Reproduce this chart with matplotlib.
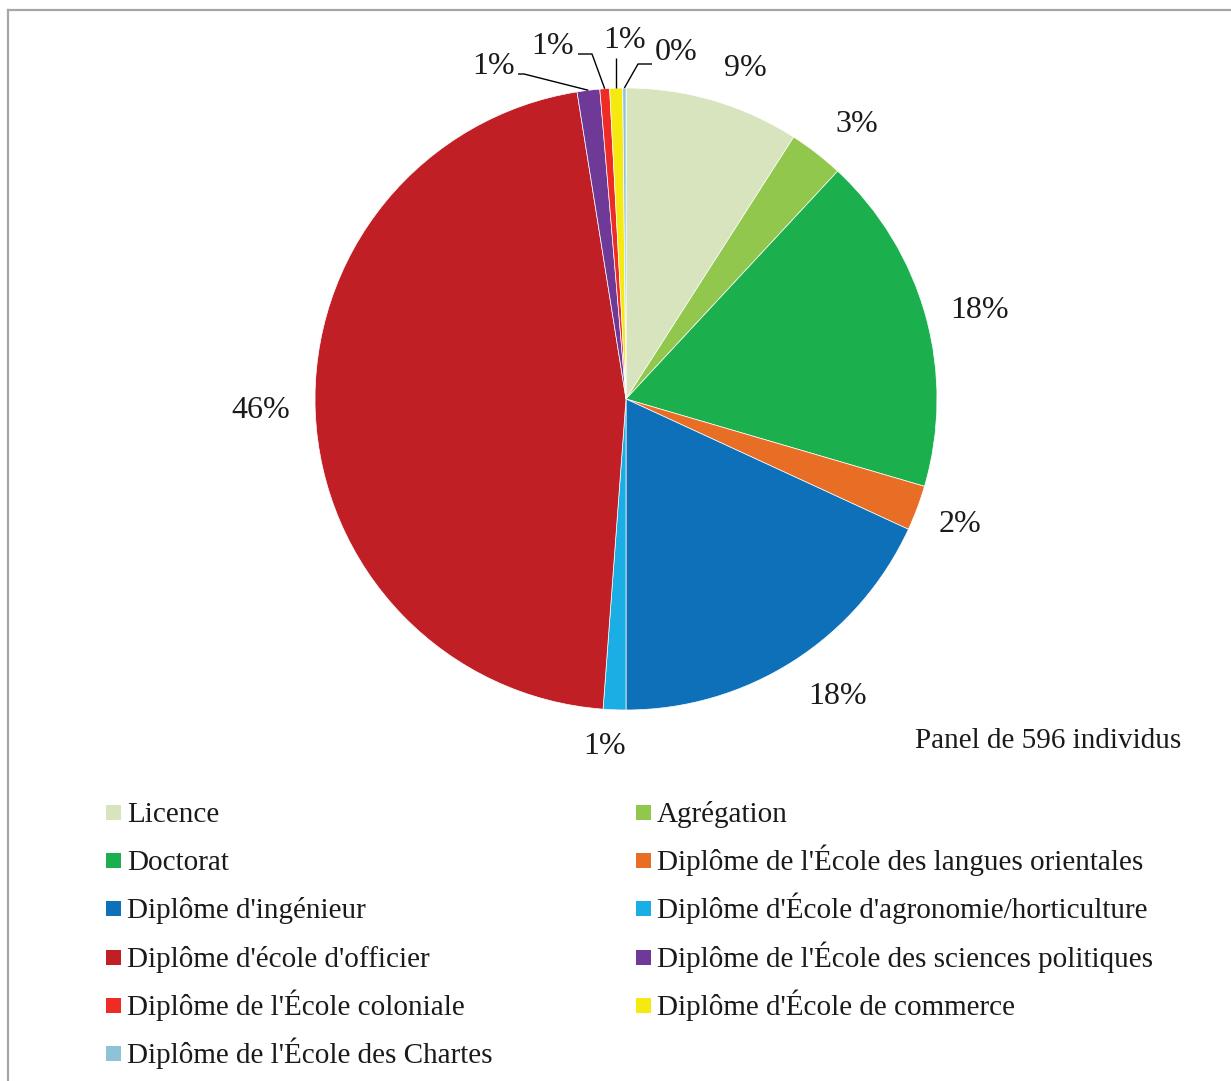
import matplotlib
matplotlib.use("Agg")
import matplotlib.pyplot as plt
from matplotlib.patches import Rectangle
from matplotlib.lines import Line2D
import numpy as np

plt.rcParams['font.family'] = ['Liberation Serif', 'DejaVu Serif']

categories = [
    "Licence", "Agrégation", "Doctorat",
    "Diplôme de l'École des langues orientales",
    "Diplôme d'ingénieur",
    "Diplôme d'École d'agronomie/horticulture",
    "Diplôme d'école d'officier",
    "Diplôme de l'École des sciences politiques",
    "Diplôme de l'École coloniale",
    "Diplôme d'École de commerce",
    "Diplôme de l'École des Chartes",
]
counts = [54, 17, 105, 14, 108, 7, 276, 7, 3, 4, 1]
pct_labels = ["9%", "3%", "18%", "2%", "18%", "1%", "46%", "1%", "1%", "1%", "0%"]
colors = ["#D7E4BD", "#92C74E", "#1BB04D", "#E76E24", "#0E70B9", "#1AAEE4",
          "#C01F26", "#6F3A97", "#EE2B24", "#F5E90F", "#8EC3D7"]
panel_text = "Panel de 596 individus"

W, H = 1231, 1081
fig = plt.figure(figsize=(W / 100, H / 100), dpi=100)

# pie axes: center (626,399) px, radius 311 px
cx, cy, r = 626, 399, 311
span = 1.35
ax = fig.add_axes([(cx - r * span) / W, 1 - (cy + r * span) / H,
                   2 * r * span / W, 2 * r * span / H])

wedges, _ = ax.pie(counts, colors=colors, startangle=90, counterclock=False,
                   radius=1.0, wedgeprops=dict(edgecolor='white', linewidth=0.5))
ax.set_xlim(-span, span)
ax.set_ylim(-span, span)
ax.set_aspect('equal')
ax.axis('off')


def px2d(px, py):
    return (px - cx) / r, (cy - py) / r


fs_lab = 23
txt_col = '#1a1a1a'
# label centres (pixel layout)
label_px = [(745, 68), (857, 124), (980, 310), (960, 524), (838, 697), (605, 747),
            (261, 411), (494, 66), (553, 46), (625, 40), (676, 53)]
for i, (lx, ly) in enumerate(label_px):
    x, y = px2d(lx, ly)
    ax.text(x, y, pct_labels[i], ha='center', va='center', fontsize=fs_lab, color=txt_col)

# leader lines for the small slices: start & elbow (pixel layout), end on the slice edge
leaders = {7: [(518, 74), (524, 74)],
           8: [(578, 54), (592, 54)],
           9: [(617, 58), None],
           10: [(652, 64), (638, 64)]}
for i, pts in leaders.items():
    w = wedges[i]
    mid = np.deg2rad((w.theta1 + w.theta2) / 2)
    ex, ey = np.cos(mid), np.sin(mid)
    sx, sy = px2d(*pts[0])
    if pts[1] is None:
        xs, ys = [ex, ex], [sy, ey]
    else:
        bx, by = px2d(*pts[1])
        xs, ys = [sx, bx, ex], [sy, by, ey]
    ax.plot(xs, ys, color='black', lw=1.0, solid_capstyle='butt')

fig.text(1181 / W, 1 - 741 / H, panel_text, ha='right', va='center', fontsize=21,
         color=txt_col)

# legend: two columns, row-major order
fs_leg = 21
col_x = [106, 636]
row_y0, row_dy = 812.5, 48.2
sq = 15
for i, (lab, c) in enumerate(zip(categories, colors)):
    row, col = divmod(i, 2)
    yc = row_y0 + row * row_dy
    x0 = col_x[col]
    fig.add_artist(Rectangle((x0 / W, 1 - (yc + sq / 2) / H), sq / W, sq / H,
                             transform=fig.transFigure, facecolor=c, edgecolor='none'))
    fig.text((x0 + sq + 6) / W, 1 - (yc + 9.5) / H, lab, ha='left', va='baseline',
             fontsize=fs_leg, color=txt_col)

# outer frame
fig.add_artist(Line2D([8 / W, 8 / W], [0, 1 - 10 / H], transform=fig.transFigure,
                      color='#A6A6A6', lw=1.6))
fig.add_artist(Line2D([8 / W, 1], [1 - 10 / H, 1 - 10 / H], transform=fig.transFigure,
                      color='#A6A6A6', lw=1.6))

fig.savefig("out.png", dpi=100)
